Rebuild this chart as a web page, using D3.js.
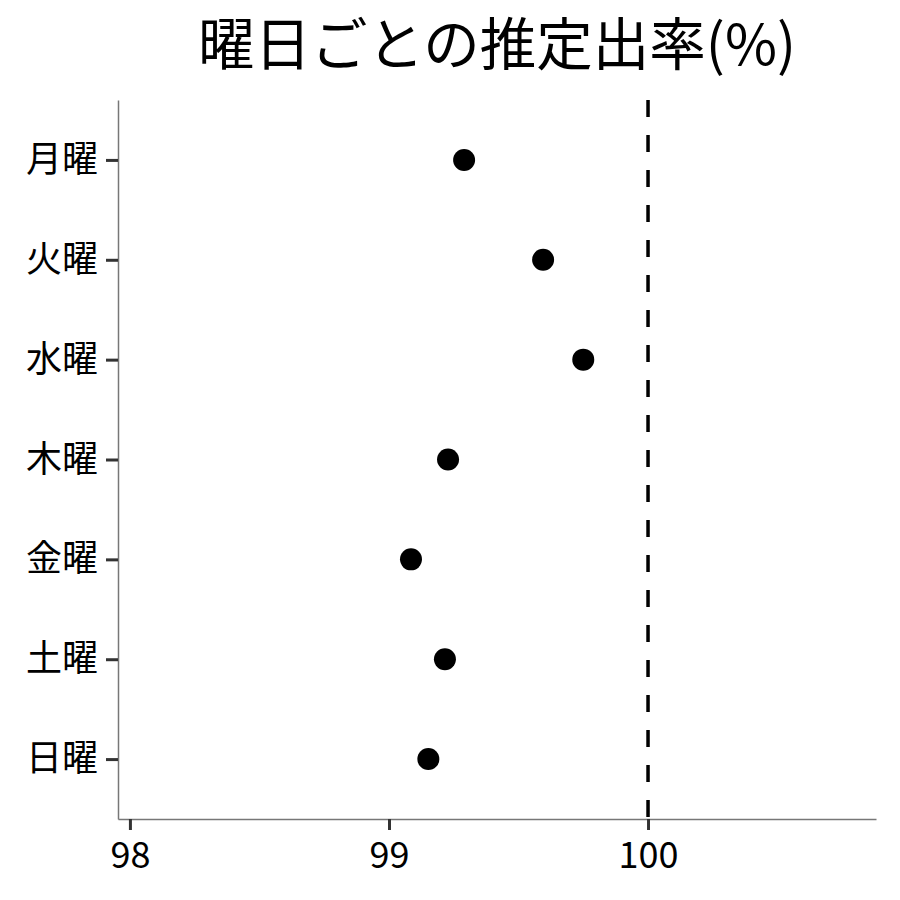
<!DOCTYPE html>
<html><head><meta charset="utf-8">
<script src="https://cdn.jsdelivr.net/npm/d3@7"></script>
<style>body{margin:0;background:#fff}</style>
</head><body>
<script>
const days = ["月曜","火曜","水曜","木曜","金曜","土曜","日曜"];
const rates = [99.29, 99.595, 99.75, 99.228, 99.085, 99.216, 99.152];
const xTicks = [98, 99, 100];
const refValue = 100;
const titleText = "曜日ごとの推定出率(%)";

const W = 900, H = 900;
const m = {left:118, right:24, top:100, bottom:81};
const font = "'Noto Sans CJK JP', 'Noto Sans', sans-serif";
const svg = d3.select("body").append("svg").attr("width", W).attr("height", H)
  .style("font-family", font);

const x = d3.scaleLinear().domain([97.954, 100.88]).range([m.left, W - m.right]);
const y = d3.scalePoint().domain(days).range([m.top, H - m.bottom]).padding(0.6);

svg.append("text").attr("x", (m.left + W - m.right)/2).attr("y", 65)
  .attr("text-anchor","middle").attr("font-size", 56.5).attr("fill","#000").text(titleText);

// axes
const xa = svg.append("g").attr("transform", `translate(0,${H - m.bottom})`)
  .call(d3.axisBottom(x).tickValues(xTicks).tickSize(11).tickSizeOuter(0).tickPadding(8).tickFormat(d3.format("d")));
const ya = svg.append("g").attr("transform", `translate(${m.left},0)`)
  .call(d3.axisLeft(y).tickSize(12).tickSizeOuter(0).tickPadding(8));
[xa, ya].forEach(g => {
  g.select(".domain").attr("stroke","#777").attr("stroke-width",1.5);
  g.selectAll(".tick line").attr("stroke","#333").attr("stroke-width",3);
  g.selectAll(".tick text").attr("fill","#000").attr("font-size",36).style("font-family", font);
});
xa.selectAll(".tick text").attr("dy","0.82em");

// reference line
svg.append("line").attr("x1", x(refValue)).attr("x2", x(refValue))
  .attr("y1", m.top).attr("y2", H - m.bottom)
  .attr("stroke","#000").attr("stroke-width",3.5).attr("stroke-dasharray","17,18");

svg.append("g").selectAll("circle").data(days).join("circle")
  .attr("cx", (d,i) => x(rates[i])).attr("cy", d => y(d)).attr("r", 11).attr("fill","#000");
</script>
</body></html>
